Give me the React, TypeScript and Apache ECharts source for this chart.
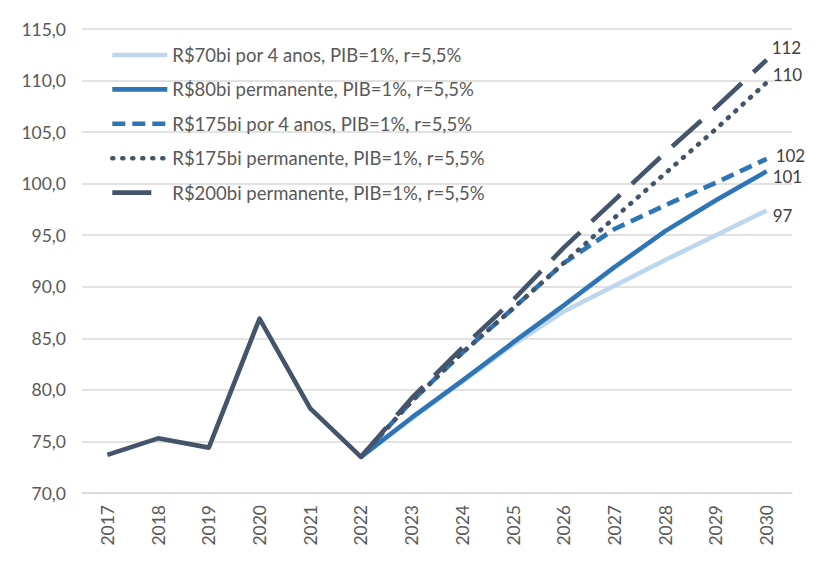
import React, { useEffect, useRef } from "react";
import * as echarts from "echarts";

const years = ["2017", "2018", "2019", "2020", "2021", "2022", "2023", "2024", "2025", "2026", "2027", "2028", "2029", "2030"];
// 2017-2022 observed
const historico = [73.7, 75.3, 74.4, 86.9, 78.2, 73.5];
// 2022-2030 projections
const proj70por4 = [73.5, 77.2, 80.8, 84.4, 87.6, 90.1, 92.6, 95.0, 97.4];
const proj80perm = [73.5, 77.3, 80.9, 84.6, 88.2, 91.9, 95.4, 98.4, 101.2];
const proj175por4 = [73.5, 78.9, 83.6, 87.9, 92.3, 95.6, 97.9, 100.1, 102.4];
const proj175perm = [73.5, 78.9, 83.6, 87.9, 92.3, 96.7, 101.0, 105.3, 109.8];
const proj200perm = [73.5, 79.2, 84.1, 88.7, 93.8, 98.4, 103.0, 107.4, 112.0];
const endLabels = ["97", "101", "102", "110", "112"];
const seriesNames = [
  "R$70bi por 4 anos, PIB=1%, r=5,5%",
  "R$80bi permanente, PIB=1%, r=5,5%",
  "R$175bi por 4 anos, PIB=1%, r=5,5%",
  "R$175bi permanente, PIB=1%, r=5,5%",
  "R$200bi permanente, PIB=1%, r=5,5%",
];

const FONT = "Lato, 'Noto Sans', sans-serif";
const LIGHT = "#bdd7ee";
const BLUE = "#2e75b6";
const DARK = "#44546a";

export default function App() {
  const ref = useRef<HTMLDivElement>(null);
  useEffect(() => {
    if (!ref.current) return;
    const chart = echarts.init(ref.current, undefined, { renderer: "svg" });
    const pad = years.length - proj70por4.length;
    const build = (vals: number[]) => years.map((_, i) => (i < pad ? null : vals[i - pad]));
    const histData = years.map((_, i) => (i < historico.length ? historico[i] : null));
    const styles = [
      { color: LIGHT, type: "solid", cap: "butt", offset: [1, 5] },
      { color: BLUE, type: "solid", cap: "butt", offset: [1, 5] },
      { color: BLUE, type: [13, 7], cap: "butt", offset: [4, -3] },
      { color: DARK, type: [1, 9], cap: "round", offset: [1, -8] },
      { color: DARK, type: [39, 16], cap: "butt", offset: [0, -12] },
    ];
    const projs = [proj70por4, proj80perm, proj175por4, proj175perm, proj200perm];
    const series: any[] = projs.map((p, k) => ({
      name: seriesNames[k],
      type: "line",
      data: build(p),
      symbol: "none",
      showSymbol: false,
      lineStyle: { color: styles[k].color, width: 4.6, type: styles[k].type, cap: styles[k].cap },
      itemStyle: { color: styles[k].color },
      endLabel: {
        show: true,
        formatter: endLabels[k],
        distance: 5,
        offset: styles[k].offset,
        color: "#404040",
        fontSize: 17,
        fontFamily: FONT,
      },
      z: 2 + k,
    }));
    series.push({
      name: "Histórico",
      type: "line",
      data: histData,
      symbol: "none",
      showSymbol: false,
      lineStyle: { color: DARK, width: 4.6, join: "round" },
      itemStyle: { color: DARK },
      z: 10,
    });
    chart.setOption({
      animation: false,
      backgroundColor: "#ffffff",
      grid: { left: 82, right: 33, top: 29, bottom: 77, containLabel: false },
      legend: {
        data: seriesNames,
        orient: "vertical",
        left: 105,
        top: 40,
        itemWidth: 55,
        itemHeight: 20,
        itemGap: 14.4,
        lineStyle: { width: 4.6 },
        itemStyle: { opacity: 0 },
        textStyle: { color: "#595959", fontSize: 18.5, fontFamily: FONT, lineHeight: 20 },
        selectedMode: false,
      },
      xAxis: {
        type: "category",
        data: years,
        boundaryGap: true,
        axisLine: { show: true, lineStyle: { color: "#d9d9d9", width: 1.5 } },
        axisTick: { show: false },
        axisLabel: { rotate: 90, margin: 12, color: "#595959", fontSize: 17.5, fontFamily: FONT },
      },
      yAxis: {
        type: "value",
        min: 70,
        max: 115,
        interval: 5,
        axisLine: { show: false },
        axisTick: { show: false },
        splitLine: { lineStyle: { color: "#d9d9d9", width: 1.5 } },
        axisLabel: {
          margin: 16,
          color: "#595959",
          fontSize: 17.5,
          fontFamily: FONT,
          formatter: (v: number) => v.toFixed(1).replace(".", ","),
        },
      },
      series,
    });
    return () => chart.dispose();
  }, []);
  return <div ref={ref} style={{ position: "absolute", left: 0, top: 0, width: 825, height: 570 }} />;
}
